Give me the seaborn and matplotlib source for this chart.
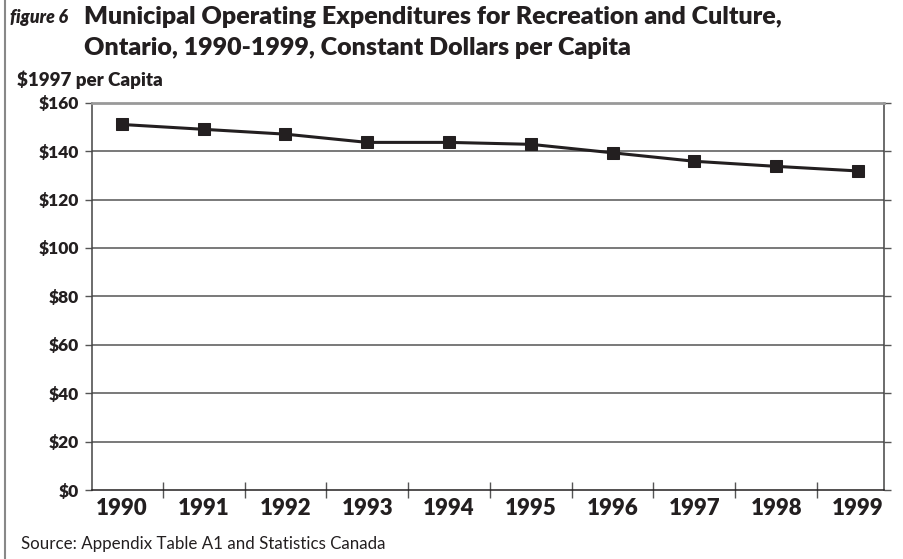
import matplotlib
matplotlib.use("Agg")
import matplotlib.pyplot as plt
import seaborn as sns
import pandas as pd
from matplotlib.lines import Line2D

years = ["1990", "1991", "1992", "1993", "1994", "1995", "1996", "1997", "1998", "1999"]
spending = [151, 149, 147, 143.6, 143.6, 142.8, 139.3, 135.8, 133.7, 131.8]
y_ticks = [0, 20, 40, 60, 80, 100, 120, 140, 160]
y_labels = ["$0", "$20", "$40", "$60", "$80", "$100", "$120", "$140", "$160"]

df = pd.DataFrame({"year": years, "value": spending})

sns.set_theme(style="white")
plt.rcParams['font.family'] = ['Lato', 'DejaVu Sans']
ink = "#231f20"

fig = plt.figure(figsize=(9.04, 5.59), dpi=100)
ax = fig.add_axes([0.1014, 0.1234, 0.978 - 0.1014, 0.8163 - 0.1234])

sns.lineplot(data=df, x="year", y="value", ax=ax, color=ink, linewidth=2.2,
             marker="s", markersize=8.5, markeredgecolor=ink, markerfacecolor=ink,
             sort=False, zorder=5)

ax.set_ylim(0, 160)
ax.set_xlim(-0.37, 9.32)
ax.set_yticks(y_ticks)
ax.set_yticklabels(y_labels, fontsize=12.5, fontweight="heavy", color=ink)
ax.set_xticks(range(len(years)))
ax.set_xticklabels(years, fontsize=16, fontweight="heavy", color=ink)
ax.tick_params(axis="x", length=0, pad=6)
ax.tick_params(axis="y", length=5, width=1, color="#555555", direction="out", pad=4,
               right=True, left=True, labelright=False)

# minor ticks at category boundaries
ax.set_xticks([i + 0.5 for i in range(len(years) - 1)], minor=True)
ax.tick_params(axis="x", which="minor", length=11, width=1, color="#555555", direction="inout", bottom=True)

for v in y_ticks[1:-1]:
    ax.axhline(v, color="#555555", linewidth=1.1, zorder=1)

ax.set_xlabel("")
ax.set_ylabel("")
for s in ["left", "bottom", "right"]:
    ax.spines[s].set_visible(True)
    ax.spines[s].set_color("#444444")
    ax.spines[s].set_linewidth(1.1)
ax.spines["top"].set_visible(True)
ax.spines["top"].set_color("#999999")
ax.spines["top"].set_linewidth(2.0)
ax.spines["bottom"].set_color(ink)

W, H = 904, 559
def fx(px): return px / W
def fy(py): return 1 - py / H

fig.text(fx(10), fy(23), "figure 6", fontsize=12.8, fontweight="heavy", fontstyle="italic", color=ink, va="baseline")
fig.text(fx(84), fy(24), "Municipal Operating Expenditures for Recreation and Culture,",
         fontsize=18, fontweight="heavy", color=ink, va="baseline")
fig.text(fx(84), fy(55), "Ontario, 1990-1999, Constant Dollars per Capita",
         fontsize=18, fontweight="heavy", color=ink, va="baseline")
fig.text(fx(17), fy(86), "$1997 per Capita", fontsize=13.5, fontweight="heavy", color=ink, va="baseline")
fig.text(fx(21), fy(549), "Source: Appendix Table A1 and Statistics Canada", fontsize=12.2, color=ink, va="baseline")

fig.add_artist(Line2D([fx(5), fx(5)], [0, 1], transform=fig.transFigure, color="#888888", linewidth=1.5))

fig.savefig("out.png", dpi=100)
